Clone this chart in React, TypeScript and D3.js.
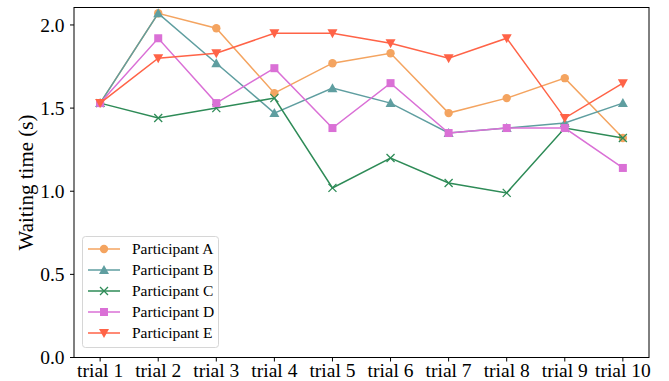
import React from 'react';
import * as d3 from 'd3';

const trials = ['trial 1', 'trial 2', 'trial 3', 'trial 4', 'trial 5', 'trial 6', 'trial 7', 'trial 8', 'trial 9', 'trial 10'];
const participantA = [1.53, 2.07, 1.98, 1.59, 1.77, 1.83, 1.47, 1.56, 1.68, 1.32];
const participantB = [1.53, 2.07, 1.77, 1.47, 1.62, 1.53, 1.35, 1.38, 1.41, 1.53];
const participantC = [1.53, 1.44, 1.50, 1.56, 1.02, 1.20, 1.05, 0.99, 1.38, 1.32];
const participantD = [1.53, 1.92, 1.53, 1.74, 1.38, 1.65, 1.35, 1.38, 1.38, 1.14];
const participantE = [1.53, 1.80, 1.83, 1.95, 1.95, 1.89, 1.80, 1.92, 1.44, 1.65];
const yTicks = [0, 0.5, 1.0, 1.5, 2.0];

const series = [
  { name: 'Participant A', values: participantA, color: '#f4a460', marker: 'circle' },
  { name: 'Participant B', values: participantB, color: '#5f9ea0', marker: 'triangle' },
  { name: 'Participant C', values: participantC, color: '#2e8b57', marker: 'x' },
  { name: 'Participant D', values: participantD, color: '#da70d6', marker: 'square' },
  { name: 'Participant E', values: participantE, color: '#ff6347', marker: 'down' },
];

const W = 669;
const H = 381;
const FONT = 'Liberation Serif';
const margin = { top: 7.5, right: 20, bottom: 23.5, left: 74 };

const x = d3.scalePoint()
  .domain(trials)
  .range([margin.left, W - margin.right])
  .padding(0.45);

const y = d3.scaleLinear()
  .domain([0, 2.105])
  .range([H - margin.bottom, margin.top]);

const line = d3.line<number>()
  .x((d, i) => x(trials[i]))
  .y(d => y(d));

const Marker = ({ type, cx, cy, color }) => {
  if (type === 'circle') return <circle cx={cx} cy={cy} r={4.2} fill={color} />;
  if (type === 'square') return <rect x={cx - 4} y={cy - 4} width={8} height={8} fill={color} />;
  if (type === 'triangle') return <path d={`M${cx},${cy - 5}L${cx + 5},${cy + 4}L${cx - 5},${cy + 4}Z`} fill={color} />;
  if (type === 'down') return <path d={`M${cx},${cy + 5}L${cx + 5},${cy - 4}L${cx - 5},${cy - 4}Z`} fill={color} />;
  return (
    <path
      d={`M${cx - 4},${cy - 4}L${cx + 4},${cy + 4}M${cx - 4},${cy + 4}L${cx + 4},${cy - 4}`}
      stroke={color} strokeWidth={1.3} fill="none"
    />
  );
};

const App = () => {
  const bottom = H - margin.bottom;
  const fmt = d3.format('.1f');

  return (
    <svg width={W} height={H} style={{ position: 'absolute', left: 0, top: 0, background: '#fff' }} fontFamily={FONT}>
      {/* y ticks */}
      {yTicks.map(t => (
        <g key={t}>
          <line x1={margin.left - 4} x2={margin.left} y1={y(t)} y2={y(t)} stroke="#000" />
          <text x={margin.left - 9.5} y={y(t)} dy="0.34em" textAnchor="end" fontSize={19.5}>{fmt(t)}</text>
        </g>
      ))}
      {/* x ticks */}
      {trials.map(t => (
        <g key={t}>
          <line x1={x(t)} x2={x(t)} y1={bottom} y2={bottom + 4} stroke="#000" />
          <text x={x(t)} y={bottom + 19} textAnchor="middle" fontSize={19.5}>{t}</text>
        </g>
      ))}

      {series.map(s => (
        <g key={s.name}>
          <path d={line(s.values)} fill="none" stroke={s.color} strokeWidth={1.5} />
          {s.values.map((v, i) => (
            <Marker key={i} type={s.marker} cx={x(trials[i])} cy={y(v)} color={s.color} />
          ))}
        </g>
      ))}

      <rect
        x={margin.left} y={margin.top}
        width={W - margin.right - margin.left} height={bottom - margin.top}
        fill="none" stroke="#000" strokeWidth={1}
      />

      <text
        transform={`translate(26,${(margin.top + bottom) / 2}) rotate(-90)`}
        textAnchor="middle" dy="0.35em" fontSize={21}
      >
        Waiting time (s)
      </text>

      <g>
        <rect x={82.5} y={236.5} width={136} height={111} rx={3} fill="#fff" fillOpacity={0.8} stroke="#d6d6d6" />
        {series.map((s, i) => {
          const ly = 249 + i * 21;
          return (
            <g key={s.name}>
              <line x1={88} x2={120} y1={ly} y2={ly} stroke={s.color} strokeWidth={1.5} />
              <Marker type={s.marker} cx={104} cy={ly} color={s.color} />
              <text x={132} y={ly} dy="0.35em" fontSize={15.5}>{s.name}</text>
            </g>
          );
        })}
      </g>
    </svg>
  );
};

export default App;
